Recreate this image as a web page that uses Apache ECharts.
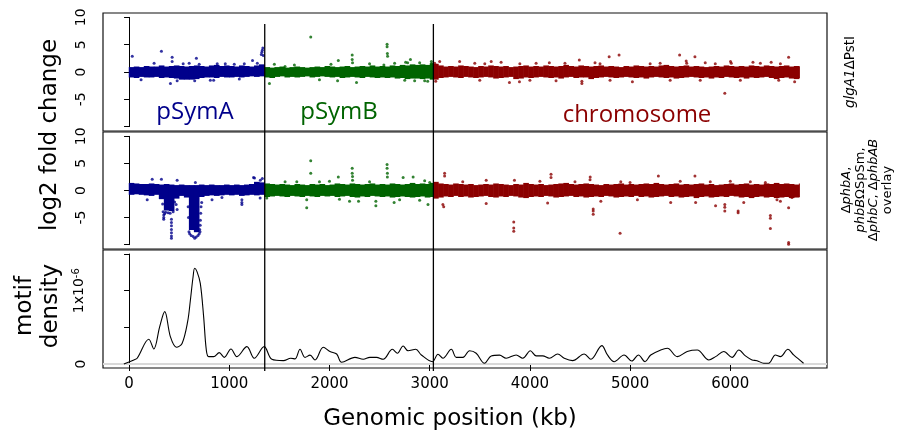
<!DOCTYPE html>
<html><head><meta charset="utf-8">
<script src="https://cdn.jsdelivr.net/npm/echarts@6/dist/echarts.min.js"></script>
<style>html,body{margin:0;padding:0;background:#fff}#c{width:904px;height:431px}</style>
</head><body><div id="c"></div>
<script>
// ---------------- DATA ----------------
const repNames  = ['pSymA', 'pSymB', 'chromosome'];
const repStart  = [0, 1354, 3037];      // kb
const repEnd    = [1354, 3037, 6691];   // kb
const repColors = ['#00008B', '#006400', '#8B0000'];
const binWidth  = 50;                   // kb per envelope bin
const boundaries = [1354, 3037];
const xTicks = [0, 1000, 2000, 3000, 4000, 5000, 6000];
const fcTicks = [-10, -5, 0, 5, 10];
const fcLabels = [-5, 0, 5, 10];
const densTicks = [0, 0.5, 1, 1.5];     // x1e-6
const densLabels = [0, 1];

// panel 1 : glgA1ΔPstI  — dense band envelope (log2 FC), per 50 kb bin
const glgA_hi = [0.9,1.0,0.9,1.1,1.0,1.0,1.2,1.0,1.1,1.2, 1.1,1.0,1.1,1.2,1.1,1.0,1.2,1.3,1.1,1.2, 1.1,1.0,1.2,1.1,1.0,1.2,1.4,1.3];
const glgA_lo = [-1.0,-1.1,-0.9,-1.0,-1.0,-0.9,-1.1,-1.0,-1.1,-1.2, -1.4,-1.4,-1.4,-1.3,-1.1,-1.0,-1.0,-1.1,-0.9,-1.0, -1.0,-0.9,-1.0,-0.9,-0.8,-0.9,-0.8,-0.9];
const glgB_hi = [0.9,0.8,0.9,1.0,0.8,0.9,1.0,0.9,0.8,0.9, 1.0,0.9,1.1,1.0,0.9,1.0,1.1,0.9,1.0,1.1, 1.0,1.2,1.0,1.1,1.0,1.2,1.1,1.3,1.2,1.4, 1.3,1.4,1.3,1.6];
const glgB_lo = [-1.0,-1.1,-0.9,-0.8,-1.0,-0.9,-1.0,-0.9,-0.8,-1.0, -0.9,-0.8,-0.9,-1.0,-0.9,-1.1,-1.0,-0.9,-1.0,-1.1, -0.9,-1.0,-1.1,-1.0,-1.1,-1.0,-1.2,-1.1,-1.3,-1.2, -1.2,-1.3,-1.2,-1.4];
const glgC_hi = [1.5,1.2,1.0,1.1,1.0,1.2,1.1,1.0,0.9,1.1, 1.0,1.2,1.1,1.0,1.1,0.9,1.0,1.1,1.2,1.0, 1.1,1.0,1.2,1.1,1.0,1.1,1.3,1.1,1.0,1.2, 1.1,1.0,1.1,1.2,1.0,1.1,1.0,0.9,1.1,1.0, 1.2,1.1,1.0,1.1,1.0,1.2,1.3,1.1,1.0,1.1, 1.2,1.0,1.1,1.0,0.9,1.0,1.1,1.0,1.2,1.1, 1.0,1.1,1.0,1.2,1.1,1.0,1.2,1.1,1.0,1.1, 1.2,1.0,1.1,1.0];
const glgC_lo = [-1.4,-1.1,-1.0,-0.9,-1.0,-1.1,-0.9,-1.0,-1.1,-1.0, -0.9,-1.0,-1.2,-1.1,-1.0,-0.9,-1.3,-1.2,-1.0,-1.1, -1.0,-0.9,-1.0,-1.1,-1.0,-1.2,-1.0,-0.9,-1.1,-1.0, -1.0,-1.3,-1.1,-1.0,-0.9,-1.0,-1.1,-1.0,-0.9,-1.0, -1.1,-1.0,-1.2,-1.0,-0.9,-1.0,-1.1,-1.0,-1.2,-1.1, -1.0,-0.9,-1.0,-1.1,-1.0,-1.2,-1.0,-1.1,-0.9,-1.0, -1.1,-1.0,-1.2,-1.0,-1.1,-1.0,-0.9,-1.1,-1.3,-1.1, -1.0,-1.2,-1.3,-1.1];
// panel 1 : isolated points [kb, log2 FC]
const glgA_pts = [[32,2.9],[323,3.8],[430,2.7],[430,1.9],[413,-2.1],[672,2.5],[655,-1.6],[844,-1.5],[811,-1.5],[960,1.5],[1232,2.1],[1320,3.2],[1325,3.6],[1330,4.0],[1335,4.4],[1340,3.0],[250,1.6],[540,1.5],[600,1.6],[700,1.4],[880,1.5],[1050,1.4],[1150,1.5],[120,-1.4],[480,-1.6],[1100,-1.3],[1280,1.6]];
const glgB_pts = [[1813,6.4],[2575,5.1],[2575,4.6],[2578,3.4],[2580,2.9],[2227,3.1],[2227,2.3],[2230,1.7],[2088,2.1],[2015,1.4],[2808,2.3],[1401,-2.1],[2270,-1.9],[2081,-1.6],[2751,-1.5],[2950,-1.6],[2780,1.7],[2760,1.8],[3017,1.9],[3020,1.5],[2543,1.3],[1557,1.0],[1450,1.4],[1650,1.3],[1900,-1.4],[2400,1.5],[2650,1.6],[2900,1.7],[2850,-1.6],[2980,-1.7]];
const glgC_pts = [[5945,-3.9],[6582,2.7],[5494,3.1],[5647,2.8],[4890,3.1],[4791,2.8],[4493,2.2],[3299,1.9],[3614,1.9],[3713,1.8],[3796,-1.9],[3896,-1.8],[4519,-2.1],[4519,-1.7],[4261,-1.6],[5023,-1.8],[6002,1.9],[6010,1.6],[6226,1.8],[6408,1.8],[6642,-1.8],[6483,-1.5],[5560,2.0],[5565,1.6],[4062,1.6],[4194,1.7],[3100,1.9],[3050,1.6],[3060,-1.7],[3450,1.6],[3550,1.5],[3900,1.5],[4350,1.6],[4650,1.7],[4700,1.5],[5200,1.5],[5300,1.6],[5750,1.7],[5850,1.5],[6300,1.6],[6500,1.5],[3500,-1.5],[4000,-1.5],[4800,-1.5],[5400,-1.5],[5700,-1.5],[6100,-1.5]];

// panel 2 : ΔphbA, phbBΩSpSm, ΔphbC, ΔphbAB overlay
const ovA_hi = [1.4,1.3,1.2,1.2,1.3,1.2,1.1,1.2,1.1,1.0, 1.1,1.0,1.0,1.0,1.1,1.0,1.1,1.0,1.0,1.1, 1.0,1.1,1.0,1.1,1.2,1.6,1.5,1.7];
const ovA_lo = [-0.8,-0.7,-0.8,-0.9,-1.0,-0.8,-1.6,-3.7,-3.8,-1.5, -1.0,-1.3,-7.3,-7.7,-1.2,-1.0,-0.9,-1.0,-0.9,-0.8, -0.9,-0.8,-1.0,-0.9,-0.8,-0.9,-0.8,-0.9];
const ovB_hi = [1.3,1.2,1.1,1.2,1.1,1.0,1.2,1.1,1.0,1.2, 1.1,1.2,1.0,1.1,1.3,1.2,1.1,1.3,1.2,1.1, 1.2,1.3,1.1,1.2,1.1,1.3,1.2,1.1,1.2,1.4, 1.2,1.3,1.2,1.4];
const ovB_lo = [-1.2,-1.1,-1.0,-1.1,-1.2,-1.0,-1.1,-1.2,-1.0,-1.1, -1.2,-1.0,-1.1,-1.0,-1.2,-1.1,-1.0,-1.2,-1.3,-1.1, -1.2,-1.0,-1.1,-1.2,-1.1,-1.3,-1.2,-1.1,-1.2,-1.3, -1.2,-1.1,-1.3,-1.2];
const ovC_hi = [1.6,1.3,1.2,1.1,1.3,1.2,1.1,1.2,1.0,1.1, 1.2,1.1,1.3,1.2,1.1,1.0,1.2,1.1,1.4,1.2, 1.1,1.2,1.0,1.1,1.2,1.3,1.4,1.2,1.1,1.2, 1.3,1.2,1.1,1.0,1.2,1.1,1.2,1.3,1.1,1.2, 1.1,1.2,1.3,1.2,1.4,1.2,1.1,1.2,1.3,1.1, 1.2,1.1,1.2,1.3,1.1,1.2,1.0,1.1,1.2,1.3, 1.1,1.2,1.3,1.1,1.2,1.1,1.3,1.2,1.4,1.2, 1.3,1.2,1.1,1.3];
const ovC_lo = [-1.5,-1.3,-1.1,-1.2,-1.0,-1.2,-1.1,-1.3,-1.2,-1.1, -1.0,-1.2,-1.3,-1.1,-1.2,-1.0,-1.1,-1.3,-1.4,-1.2, -1.1,-1.2,-1.0,-1.1,-1.3,-1.2,-1.1,-1.0,-1.2,-1.1, -1.3,-1.2,-1.1,-1.2,-1.0,-1.1,-1.3,-1.2,-1.1,-1.2, -1.0,-1.2,-1.1,-1.3,-1.2,-1.1,-1.0,-1.2,-1.1,-1.3, -1.2,-1.1,-1.4,-1.2,-1.1,-1.3,-1.2,-1.1,-1.2,-1.0, -1.1,-1.3,-1.2,-1.4,-1.2,-1.1,-1.3,-1.2,-1.4,-1.3, -1.2,-1.4,-1.3,-1.2];
const ovA_pts = [[181,-1.7],[828,-1.7],[1126,-1.7],[1126,-2.2],[1126,-2.6],[927,-1.3],[1308,-1.4],[231,2.1],[323,2.1],[480,1.9],[662,1.5],[1242,2.4],[1252,2.3],[1310,1.9],[1330,2.2],
  [335,-2.5],[340,-3.9],[346,-4.5],[346,-5.0],[346,-5.3],[355,-4.3],[365,-4.0],[390,-4.1],[410,-4.2],[423,-5.3],[423,-5.9],[423,-6.5],[423,-7.2],[423,-7.8],[423,-8.4],[423,-8.8],[440,-3.9],[480,-3.5],[470,-2.6],[455,-2.1],
  [590,-3.0],[593,-5.0],[598,-7.6],[605,-8.0],[620,-8.3],[640,-8.5],[655,-8.8],[670,-8.6],[688,-8.3],[700,-8.0],[705,-7.2],[710,-6.4],[712,-5.5],[715,-4.2],[718,-3.0],[725,-2.2],[708,-7.6]];
const ovB_pts = [[1813,5.5],[1813,3.2],[2575,4.8],[2575,4.1],[2578,3.2],[2578,2.5],[2227,4.1],[2227,3.2],[2230,2.6],[2230,1.9],[2088,2.5],[2735,2.4],[2835,2.5],[1674,1.6],[1773,-3.2],[1773,-1.7],[2463,-2.0],[2463,-2.8],[2645,-2.2],[2983,-2.6],[2200,-2.0],[2290,-2.0],[1557,1.6],[1375,-1.4],[1900,1.6],[2000,1.7],[2400,1.6],[2950,1.8],[3000,1.5],[2100,-1.6],[2700,-1.7],[2900,-1.8]];
const ovC_pts = [[3839,-5.8],[3839,-6.9],[3839,-7.5],[4900,-7.9],[4632,-3.4],[4632,-3.8],[4632,-4.4],[6400,-4.6],[6400,-5.1],[6400,-7.0],[6582,-9.6],[6582,-9.9],[6582,-3.2],[5945,-2.6],[5945,-3.1],[5945,-3.8],[6078,-3.8],[6078,-4.1],[5853,-2.8],[6134,-2.2],[3132,-2.6],[3140,-3.0],[3564,-2.4],[3149,3.2],[3149,2.7],[4211,3.0],[4211,2.4],[4602,2.5],[5282,2.7],[5647,2.7],[3564,1.9],[3846,1.9],[4907,1.6],[6466,-1.7],[6500,-2.0],[6615,-1.3],[4177,-2.3],[5405,-2.2],[5654,-2.2],[4708,-2.0],[5073,-1.7],[3330,1.6],[4100,1.7],[4450,1.6],[4600,2.0],[5000,1.5],[5500,1.7],[5800,1.6],[6000,1.7],[6200,1.6],[6350,1.5]];

// panel 3 : motif density (units of 1e-6)
const motifPos = [-52,48,81,197,247,306,356,413,473,529,585,612,639,655,678,711,744,771,794,844,900,950,1017,1076,1176,1249,1348,1425,1540,1614,1657,1706,1756,1806,1856,1938,2005,2072,2121,2254,2337,2403,2469,2536,2628,2678,2735,2784,2861,2917,3027,3083,3132,3216,3266,3332,3398,3464,3547,3614,3697,3763,3863,3929,4005,4062,4128,4194,4277,4343,4426,4542,4609,4718,4774,4841,4940,5017,5083,5149,5206,5305,5372,5471,5570,5670,5786,5853,5935,6018,6085,6151,6217,6267,6333,6383,6450,6500,6575,6632,6731];
const motifVal = [0,0.055,0.078,0.337,0.205,0.51,0.714,0.37,0.228,0.28,0.58,0.87,1.19,1.305,1.26,1.1,0.65,0.19,0.1,0.1,0.155,0.09,0.205,0.1,0.236,0.078,0.236,0.064,0.045,0.078,0.07,0.2,0.09,0.12,0.055,0.228,0.17,0.136,0.023,0.09,0.064,0.09,0.09,0.064,0.2,0.146,0.246,0.18,0.2,0.123,0.031,0.132,0.078,0.2,0.09,0.09,0.18,0.146,0.01,0.11,0.12,0.078,0.123,0.078,0.18,0.11,0.11,0.078,0.136,0.078,0.045,0.136,0.064,0.25,0.123,0.031,0.123,0.04,0.123,0.031,0.123,0.19,0.214,0.1,0.17,0.19,0.055,0.1,0.17,0.09,0.19,0.11,0.055,0.045,0.01,0.01,0.123,0.1,0.2,0.123,0.01];

// ---------------- LAYOUT ----------------
const X_MIN = -260, X_MAX = 6965;
const FC_MIN = -10.8, FC_MAX = 10.8;
const D_MIN = -0.055, D_MAX = 1.555;
const L = 103, R = 77;
const panels = [{top:13, h:118, min:FC_MIN, max:FC_MAX, t0:-10, t1:10},
                {top:132, h:117, min:FC_MIN, max:FC_MAX, t0:-10, t1:10},
                {top:250, h:118, min:D_MIN, max:D_MAX, t0:0, t1:1.5}];
const FONT = 'DejaVu Sans';

const grids = [], xAxes = [], yAxes = [];
panels.forEach((p) => {
  grids.push({left:L, right:R, top:p.top, height:p.h, show:true, borderColor:'#111', borderWidth:1.2, backgroundColor:'transparent'});
});
panels.forEach((p) => {
  const span = p.max - p.min;
  grids.push({left:L, right:R, top:p.top + (p.max - p.t1)/span*p.h, height:(p.t1 - p.t0)/span*p.h, show:false});
});
grids.push({left:L, right:R, top:24, height:347, show:false});

for (let g = 0; g < 7; g++) {
  const isBottom = g === 2;
  xAxes.push({
    type:'value', gridIndex:g, min:X_MIN, max:X_MAX, show: isBottom,
    axisLine:{show:false}, splitLine:{show:false},
    axisTick:{show:isBottom, length:7, lineStyle:{color:'#000', width:1}, customValues:xTicks},
    axisLabel:{show:isBottom, customValues:xTicks, margin:9, fontFamily:FONT, fontSize:15, color:'#000',
               formatter:(v) => String(v)}
  });
}
// plot-grid y axes (hidden)
panels.forEach((p, i) => {
  yAxes.push({type:'value', gridIndex:i, min:p.min, max:p.max, show:false, splitLine:{show:false}});
});
// visible y axes drawn R-style (line from first to last tick)
[0,1].forEach((i) => {
  yAxes.push({type:'value', gridIndex:3+i, min:-10, max:10, offset:7, position:'left',
    splitLine:{show:false},
    axisLine:{show:true, lineStyle:{color:'#000', width:1}},
    axisTick:{show:true, length:5, customValues:fcTicks, lineStyle:{color:'#000'}},
    axisLabel:{customValues:fcLabels, rotate:90, margin:8, fontFamily:FONT, fontSize:14, color:'#000',
               formatter:(v) => String(v)}});
});
yAxes.push({type:'value', gridIndex:5, min:0, max:1.5, offset:7, position:'left',
  splitLine:{show:false},
  axisLine:{show:true, lineStyle:{color:'#000', width:1}},
  axisTick:{show:true, length:5, customValues:densTicks, lineStyle:{color:'#000'}},
  axisLabel:{customValues:densLabels, rotate:90, margin:8, fontFamily:FONT, fontSize:14, color:'#000',
    formatter:(v) => v === 0 ? '0' : '1x10{sup|-6}',
    rich:{sup:{fontFamily:FONT, fontSize:10, verticalAlign:'top', padding:[0,0,7,0], color:'#000'}}}});
yAxes.push({type:'value', gridIndex:6, min:0, max:1, show:false, splitLine:{show:false}});

// ---------------- SERIES ----------------
function bandItems(r, lo, hi) {
  const out = [];
  for (let i = 0; i < lo.length; i++) {
    const s = repStart[r] + i*binWidth;
    const e = Math.min(s + binWidth, repEnd[r]);
    out.push([s, e, lo[i], hi[i]]);
  }
  return out;
}
function bandSeries(panel, r, lo, hi) {
  const col = repColors[r];
  return {
    type:'custom', xAxisIndex:panel, yAxisIndex:panel, silent:true, z:2,
    data: bandItems(r, lo, hi), encode:{x:[0,1], y:[2,3]},
    renderItem:(params, api) => {
      const a = api.coord([api.value(0), api.value(3)]);
      const b = api.coord([api.value(1), api.value(2)]);
      return {type:'rect', shape:{x:a[0]-0.3, y:a[1], width:b[0]-a[0]+0.6, height:b[1]-a[1]}, style:{fill:col}};
    }
  };
}
function ptSeries(panel, r, pts) {
  return {type:'scatter', xAxisIndex:panel, yAxisIndex:panel, data:pts, symbol:'circle', symbolSize:3,
          itemStyle:{color:repColors[r]}, silent:true, z:3};
}
const series = [
  bandSeries(0,0,glgA_lo,glgA_hi), bandSeries(0,1,glgB_lo,glgB_hi), bandSeries(0,2,glgC_lo,glgC_hi),
  ptSeries(0,0,glgA_pts), ptSeries(0,1,glgB_pts), ptSeries(0,2,glgC_pts),
  bandSeries(1,0,ovA_lo,ovA_hi), bandSeries(1,1,ovB_lo,ovB_hi), bandSeries(1,2,ovC_lo,ovC_hi),
  ptSeries(1,0,ovA_pts), ptSeries(1,1,ovB_pts), ptSeries(1,2,ovC_pts),
  {type:'line', xAxisIndex:2, yAxisIndex:2, data:[[X_MIN,0],[X_MAX,0]], symbol:'none', silent:true, z:1,
   lineStyle:{color:'#d9d9d9', width:2}},
  {type:'line', xAxisIndex:2, yAxisIndex:2, data:motifPos.map((x,i)=>[x, motifVal[i]]), symbol:'none', smooth:0.35,
   silent:true, z:3, lineStyle:{color:'#000', width:1.1}}
];
boundaries.forEach((b) => {
  series.push({type:'line', xAxisIndex:6, yAxisIndex:6, data:[[b,0],[b,1]], symbol:'none', silent:true, z:5,
               lineStyle:{color:'#000', width:1.3}});
});

// ---------------- TEXT ----------------
const rot = Math.PI/2;
const graphic = [
  {type:'text', x:50, y:135, rotation:rot, style:{text:'log2 fold change', font:'23px "DejaVu Sans"', fill:'#000', align:'center', verticalAlign:'middle'}},
  {type:'text', x:38, y:306, rotation:rot, style:{text:'motif\ndensity', font:'23px "DejaVu Sans"', lineHeight:26, fill:'#000', align:'center', verticalAlign:'middle'}},
  {type:'text', x:450, y:419, style:{text:'Genomic position (kb)', font:'23px "DejaVu Sans"', fill:'#000', align:'center', verticalAlign:'middle'}},
  {type:'text', x:195, y:112, style:{text:repNames[0], font:'24px "Open Sans"', fill:repColors[0], align:'center', verticalAlign:'middle'}},
  {type:'text', x:339, y:112, style:{text:repNames[1], font:'24px "Open Sans"', fill:repColors[1], align:'center', verticalAlign:'middle'}},
  {type:'text', x:637, y:115, style:{text:repNames[2], font:'24px "Open Sans"', fill:repColors[2], align:'center', verticalAlign:'middle'}},
  {type:'text', x:850, y:72, rotation:rot, style:{text:'{i|glgA1}ΔPstI', font:'13.5px "DejaVu Sans"', fill:'#000', align:'center', verticalAlign:'middle',
     rich:{i:{fontFamily:FONT, fontSize:13.5, fontStyle:'italic', fill:'#000'}}}},
  {type:'text', x:867, y:190, rotation:rot, style:{text:'Δ{i|phbA},\n{i|phbB}ΩSpSm,\nΔ{i|phbC}, Δ{i|phbAB}\noverlay', font:'13px "DejaVu Sans"', lineHeight:13.5, fill:'#000', align:'center', verticalAlign:'middle',
     rich:{i:{fontFamily:FONT, fontSize:13, fontStyle:'italic', fill:'#000', lineHeight:13.5}}}}
];

const chart = echarts.init(document.getElementById('c'), null, {renderer:'canvas'});
chart.setOption({animation:false, backgroundColor:'#fff', grid:grids, xAxis:xAxes, yAxis:yAxes, series:series, graphic:graphic});
</script></body></html>
